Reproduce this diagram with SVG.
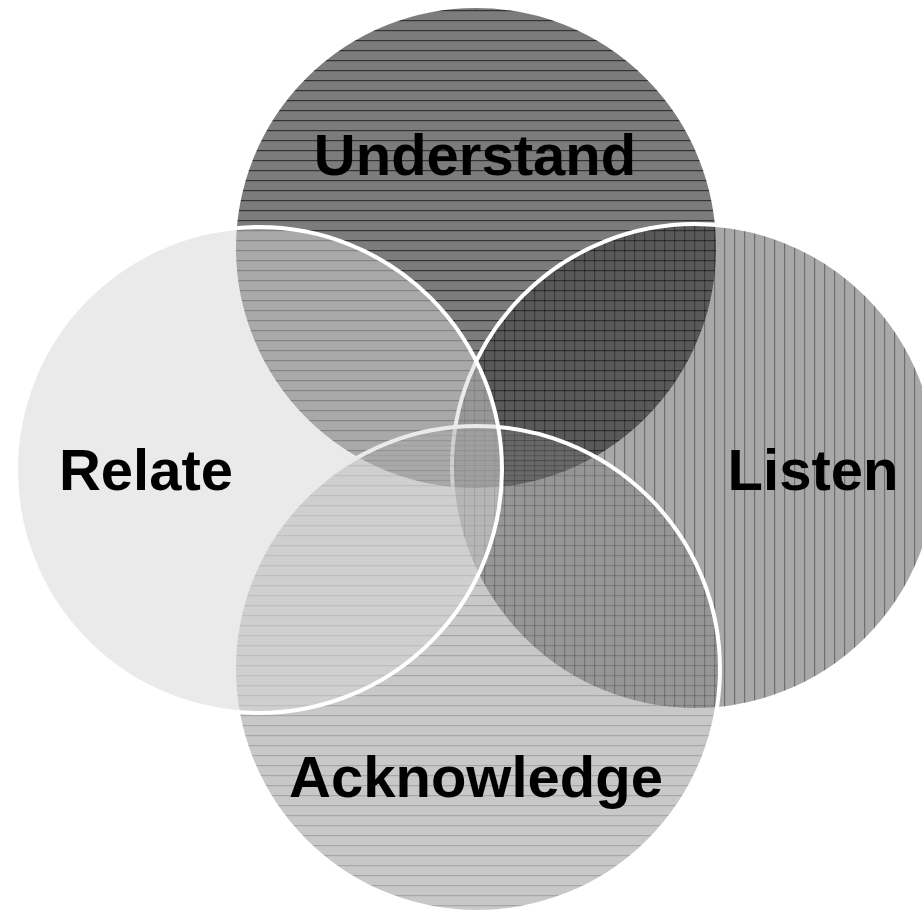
<svg xmlns="http://www.w3.org/2000/svg" width="922" height="914" viewBox="0 0 922 914">
  <defs>
    <pattern id="pU" patternUnits="userSpaceOnUse" width="10" height="10">
      <rect width="10" height="10" fill="#7c7c7c"/>
      <rect y="0" width="10" height="1.2" fill="#333333"/>
    </pattern>
    <pattern id="pL" patternUnits="userSpaceOnUse" width="10" height="10">
      <rect width="10" height="10" fill="#252525" fill-opacity="0.4"/>
      <rect x="4" width="1.2" height="10" fill="#000" fill-opacity="0.35"/>
    </pattern>
    <pattern id="pA" patternUnits="userSpaceOnUse" width="10" height="10">
      <rect width="10" height="10" fill="#7d7d7d" fill-opacity="0.425"/>
      <rect y="5" width="10" height="1.2" fill="#000" fill-opacity="0.16"/>
    </pattern>
    <style>
      .c { stroke: #ffffff; stroke-width: 4; }
      .t { font-family: "Liberation Sans", Arial, sans-serif; font-weight: bold; font-size: 58px; fill: #000; text-anchor: middle; }
    </style>
  </defs>
  <rect width="922" height="914" fill="#ffffff"/>
  <g id="understand">
    <circle class="c" cx="476" cy="248" r="242" fill="url(#pU)"/>
  </g>
  <g id="listen">
    <circle class="c" cx="695" cy="467" r="243" fill="url(#pL)"/>
  </g>
  <g id="acknowledge">
    <circle class="c" cx="477" cy="669" r="243" fill="url(#pA)"/>
  </g>
  <g id="relate">
    <circle class="c" cx="259" cy="470" r="243" fill="#d5d5d5" fill-opacity="0.5"/>
  </g>
  <g id="labels">
    <text class="t" x="475" y="175">Understand</text>
    <text class="t" x="146" y="490">Relate</text>
    <text class="t" x="813" y="490">Listen</text>
    <text class="t" x="476" y="797">Acknowledge</text>
  </g>
</svg>
